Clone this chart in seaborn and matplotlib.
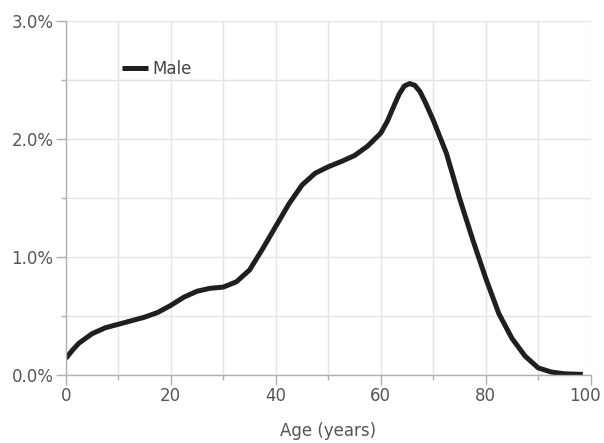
import matplotlib
matplotlib.use("Agg")
import matplotlib.pyplot as plt
import matplotlib.transforms as mtransforms
import seaborn as sns
import pandas as pd
from matplotlib.ticker import FuncFormatter, MultipleLocator

ages = [0, 1.25, 2.5, 5, 7.5, 10, 12.5, 15, 17.5, 20, 22.5, 25, 27.5, 30, 32.5, 35,
        37.5, 40, 42.5, 45, 47.5, 50, 52.5, 55, 57.5, 60, 61.25, 62.5, 63.5, 64.5,
        65.5, 66.5, 67.5, 68.5, 70, 72.5, 75, 77.5, 80, 82.5, 85, 87.5, 90, 92.5,
        95, 98.5]
male_pct = [0.14, 0.21, 0.27, 0.35, 0.40, 0.43, 0.46, 0.49, 0.53, 0.59, 0.66, 0.71,
            0.735, 0.745, 0.79, 0.89, 1.07, 1.26, 1.45, 1.61, 1.71, 1.765, 1.81,
            1.86, 1.94, 2.05, 2.15, 2.28, 2.38, 2.45, 2.47, 2.455, 2.40, 2.31, 2.16,
            1.88, 1.50, 1.15, 0.82, 0.52, 0.31, 0.16, 0.06, 0.025, 0.01, 0.005]
series_name = "Male"
x_label = "Age (years)"

df = pd.DataFrame({"age": ages, "pct": male_pct, "sex": series_name})

sns.set_theme(style="white")
plt.rcParams["font.family"] = ["DejaVu Sans"]

fig = plt.figure(figsize=(6.04, 4.43), dpi=100)
ax = fig.add_axes([0.109, 0.1535, 0.869, 0.799])

sns.lineplot(data=df, x="age", y="pct", hue="sex", palette=["#1f1f1f"],
             linewidth=3.6, ax=ax, legend=True,
             solid_joinstyle="round", solid_capstyle="butt")

ax.set_xlim(0, 100)
ax.set_ylim(0, 3.0)
ax.xaxis.set_major_locator(MultipleLocator(20))
ax.xaxis.set_minor_locator(MultipleLocator(10))
ax.yaxis.set_major_locator(MultipleLocator(1.0))
ax.yaxis.set_minor_locator(MultipleLocator(0.5))
ax.yaxis.set_major_formatter(FuncFormatter(lambda v, p: f"{v:.1f}%"))

ax.grid(True, which="both", color="#e4e4e4", linewidth=1.0)
ax.set_axisbelow(True)
for s in ["top", "right"]:
    ax.spines[s].set_visible(False)
for s in ["left", "bottom"]:
    ax.spines[s].set_color("#b0b0b0")
    ax.spines[s].set_linewidth(1.0)

ax.tick_params(which="major", direction="out", length=7, width=1, color="#b0b0b0",
               labelsize=12, labelcolor="#555555", pad=2)
ax.tick_params(which="minor", direction="out", length=3.5, width=1, color="#b0b0b0")
ax.tick_params(axis="both", which="both", bottom=True, left=True)

ax.set_xlabel(x_label, fontsize=12, color="#555555", labelpad=12)
ax.set_ylabel("")

leg = ax.legend(loc="upper left", bbox_to_anchor=(0.107, 0.891), frameon=False,
                fontsize=12, handlelength=1.55, handletextpad=0.25, borderaxespad=0,
                borderpad=0)
for t in leg.get_texts():
    t.set_color("#444444")

fig.canvas.draw()
shift = mtransforms.ScaledTranslation(-6 / 100, 0, fig.dpi_scale_trans)
for lbl in ax.get_xticklabels():
    if lbl.get_text() == "100":
        lbl.set_transform(lbl.get_transform() + shift)

fig.savefig("out.png", dpi=100, facecolor="white")
